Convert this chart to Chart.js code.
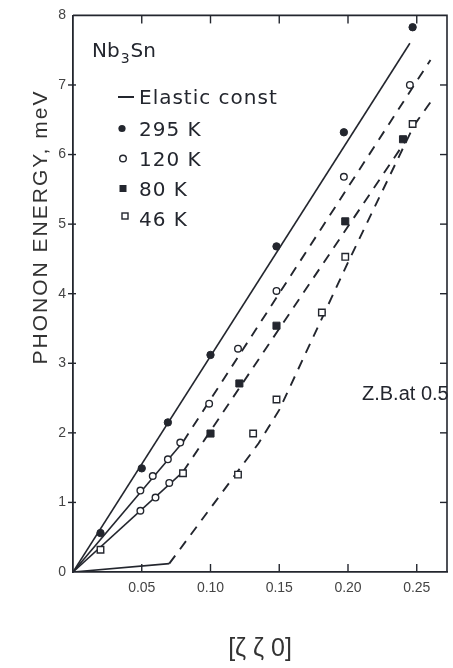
<!DOCTYPE html>
<html>
<head>
<meta charset="utf-8">
<script src="https://cdn.jsdelivr.net/npm/chart.js@4"></script>
<style>
  html, body { margin: 0; padding: 0; background: #fff; }
  #wrap { width: 453px; height: 668px; }
</style>
</head>
<body>
<div id="wrap"><canvas id="chart" width="453" height="668"></canvas></div>
<script>
/* ── Nb3Sn [ζζ0] TA phonon branch ── */

const xTicks = [0.05, 0.10, 0.15, 0.20, 0.25];
const yTicks = [0, 1, 2, 3, 4, 5, 6, 7, 8];

// measured points (q in r.l.u., E in meV)
const q295 = [0.020, 0.050, 0.069, 0.100, 0.148, 0.197, 0.247];
const e295 = [0.56, 1.49, 2.15, 3.12, 4.68, 6.32, 7.83];
const q120 = [0.049, 0.058, 0.069, 0.078, 0.099, 0.120, 0.148, 0.197, 0.245];
const e120 = [1.17, 1.38, 1.62, 1.86, 2.42, 3.21, 4.04, 5.68, 7.00];
const q80 = [0.100, 0.121, 0.148, 0.198, 0.240];
const e80 = [1.99, 2.71, 3.54, 5.04, 6.22];
const q80low = [0.049, 0.060, 0.070];   // open markers on the low-q 80 K branch
const e80low = [0.88, 1.07, 1.28];
const q46 = [0.020, 0.080, 0.120, 0.131, 0.148, 0.181, 0.198, 0.247];
const e46 = [0.32, 1.42, 1.40, 1.99, 2.48, 3.73, 4.53, 6.44];

// guide lines
const qElastic = [0, 0.245],               eElastic = [0, 7.60];
const q120Solid = [0, 0.080],              e120Solid = [0, 1.87];
const q120Dash = [0.080, 0.260],           e120Dash = [1.87, 7.36];
const q80Solid = [0, 0.080],               e80Solid = [0, 1.44];
const q80Dash = [0.080, 0.242],            e80Dash = [1.44, 6.20];
const q46Solid = [0, 0.070],               e46Solid = [0, 0.12];
const q46Dash = [0.070, 0.135, 0.150, 0.200, 0.248, 0.261];
const e46Dash = [0.12, 1.85, 2.33, 4.45, 6.42, 6.78];

const legendRows = ['Elastic const', '295 K', '120 K', '80 K', '46 K'];
const yTitle = 'PHONON ENERGY, meV';

const ink = '#23262e';
const pts = (q, e) => q.map((v, i) => ({ x: v, y: e[i] }));

function guide(q, e, dashed) {
  return { type: 'line', data: pts(q, e), borderColor: ink, borderWidth: dashed ? 1.9 : 1.6,
           borderDash: dashed ? [10, 8] : [], pointRadius: 0, tension: 0, fill: false, order: 2 };
}
function marks(q, e, style, r, filled) {
  return { type: 'scatter', data: pts(q, e), pointStyle: style, pointRadius: r,
           pointBackgroundColor: filled ? ink : '#fff', pointBorderColor: ink,
           pointBorderWidth: filled ? 1 : 1.4, showLine: false, order: 1 };
}

/* ── frame, inward ticks, in-plot text ── */
const frame = {
  id: 'frame',
  afterDraw(chart) {
    const c = chart.ctx, a = chart.chartArea;
    const xs = chart.scales.x, ys = chart.scales.y;
    c.save();
    c.strokeStyle = ink; c.lineWidth = 1.6;
    c.beginPath();
    c.moveTo(a.left, a.top); c.lineTo(a.right, a.top); c.lineTo(a.right, a.bottom);
    c.stroke();
    c.lineWidth = 1.4;
    xTicks.forEach(v => {
      const px = xs.getPixelForValue(v);
      c.beginPath(); c.moveTo(px, a.bottom); c.lineTo(px, a.bottom - 8); c.stroke();
      c.beginPath(); c.moveTo(px, a.top); c.lineTo(px, a.top + 8); c.stroke();
    });
    yTicks.slice(1, -1).forEach(v => {
      const py = ys.getPixelForValue(v);
      c.beginPath(); c.moveTo(a.left - 5, py); c.lineTo(a.left + 3, py); c.stroke();
      c.beginPath(); c.moveTo(a.right, py); c.lineTo(a.right - 7, py); c.stroke();
    });

    // y title, spaced out and set a little above the axis middle
    c.save();
    c.fillStyle = '#333';
    c.font = '21px "Liberation Sans"';
    c.letterSpacing = '2px';
    c.translate(47, 227);
    c.rotate(-Math.PI / 2);
    c.textAlign = 'center'; c.textBaseline = 'alphabetic';
    c.fillText(yTitle, 0, 0);
    c.restore();

    // compound label
    c.fillStyle = ink; c.textBaseline = 'alphabetic'; c.textAlign = 'left';
    c.font = '20px "DejaVu Sans"';
    let x = 92;
    c.fillText('Nb', x, 57); x += c.measureText('Nb').width;
    c.font = '14px "DejaVu Sans"';
    c.fillText('3', x + 1, 63); x += c.measureText('3').width + 2;
    c.font = '20px "DejaVu Sans"';
    c.fillText('Sn', x, 57);

    // legend
    c.font = '20px "DejaVu Sans"';
    c.letterSpacing = '1px';
    const base = [104, 136, 166, 196, 226];
    legendRows.forEach((t, i) => c.fillText(t, 139, base[i]));
    c.letterSpacing = '0px';
    c.lineWidth = 2;
    c.beginPath(); c.moveTo(118, 97); c.lineTo(134, 97); c.stroke();
    c.beginPath(); c.arc(122, 128.5, 3.6, 0, Math.PI * 2); c.fill();
    c.lineWidth = 1.4;
    c.beginPath(); c.arc(123, 158.5, 3.3, 0, Math.PI * 2); c.stroke();
    c.fillRect(119.5, 185, 7, 7);
    c.strokeRect(122, 213, 6, 6);

    c.font = '20px "Liberation Sans"';
    c.fillText('Z.B.at 0.5', 362, 400);
    c.restore();
  }
};

new Chart(document.getElementById('chart'), {
  type: 'scatter',
  data: {
    datasets: [
      guide(qElastic, eElastic, false),
      guide(q120Solid, e120Solid, false),
      guide(q120Dash, e120Dash, true),
      guide(q80Solid, e80Solid, false),
      guide(q80Dash, e80Dash, true),
      guide(q46Solid, e46Solid, false),
      guide(q46Dash, e46Dash, true),
      marks(q295, e295, 'circle', 3.7, true),
      marks(q120, e120, 'circle', 3.3, false),
      marks(q80low, e80low, 'circle', 3.3, false),
      marks(q80, e80, 'rect', 5, true),
      marks(q46, e46, 'rect', 4.6, false)
    ]
  },
  options: {
    responsive: false, animation: false,
    layout: { padding: { top: 9, right: 1, left: 0, bottom: 0 } },
    plugins: { legend: { display: false }, tooltip: { enabled: false } },
    scales: {
      x: {
        type: 'linear', min: 0, max: 0.272,
        afterBuildTicks: s => { s.ticks = xTicks.map(v => ({ value: v })); },
        afterFit: s => { s.height = 96; },
        grid: { drawOnChartArea: false, drawTicks: false },
        border: { display: true, color: ink, width: 1.8 },
        ticks: { color: '#444', font: { family: 'Liberation Sans', size: 14 }, padding: 8,
                 callback: v => v.toFixed(2) },
        title: { display: true, text: '[ζ ζ 0]', color: '#333',
                 font: { family: 'Liberation Sans', size: 25 }, padding: { top: 0, bottom: 4 } }
      },
      y: {
        type: 'linear', min: 0, max: 8,
        afterBuildTicks: s => { s.ticks = yTicks.map(v => ({ value: v })); },
        afterFit: s => { s.width = 73; },
        grid: { drawOnChartArea: false, drawTicks: false },
        border: { display: true, color: ink, width: 1.8 },
        ticks: { color: '#444', font: { family: 'Liberation Sans', size: 14 }, padding: 7 },
        title: { display: false }
      }
    }
  },
  plugins: [frame]
});
</script>
</body>
</html>
